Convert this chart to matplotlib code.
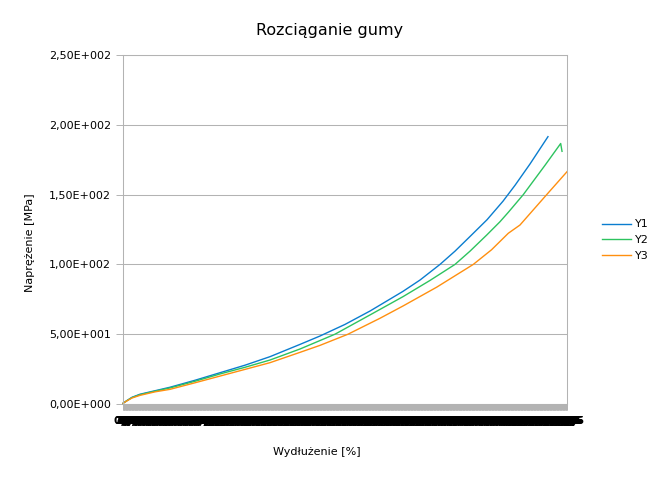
import numpy as np
import matplotlib
matplotlib.use('Agg')
import matplotlib.pyplot as plt
from matplotlib.ticker import FuncFormatter

# x axis is a category axis: elongation values [%]
step = 0.5
categories = np.arange(0, 597.5 + step / 2, step)
cat_labels = [f"{c:g}".replace('.', ',') for c in categories]

# series (elongation %, stress MPa)
y1_x = [0, 5.4, 12.1, 22.9, 43.1, 63.2, 96.9, 130.5, 164.2, 197.8, 238.2, 265.1,
        298.7, 332.4, 376.8, 399.7, 426.6, 446.8, 467.0, 489.9, 511.4, 527.6,
        547.8, 571.9]
y1_val = [0.5, 2.5, 4.8, 7, 9.5, 12, 17, 22.4, 27.8, 33.9, 42.7, 48.7,
          57, 66.6, 80.7, 88.8, 100, 109.5, 120, 132, 145.3, 156.7,
          172, 191.5]

y2_x = [0, 5.4, 12.1, 22.9, 43.1, 63.2, 96.9, 130.5, 164.2, 197.8, 238.2, 285.3,
        332.4, 376.8, 413.1, 446.8, 467.0, 489.4, 507.2, 518.5, 538.7, 567.9,
        589.0, 590.8]
y2_val = [0.5, 2.4, 4.6, 6.7, 9.2, 11.5, 16.3, 21.5, 26.3, 31.5, 39.4, 50,
          63.8, 76.9, 88.5, 100, 109.5, 121, 130.5, 137.3, 150, 171,
          186.6, 181]

y3_x = [0, 5.4, 12.1, 22.9, 43.1, 63.2, 96.9, 130.5, 164.2, 197.8, 238.2, 265.1,
        302.8, 345.8, 376.8, 422.2, 471.4, 496.0, 518.5, 534.2, 570.2, 597.5]
y3_val = [0.5, 2.3, 4.3, 6.2, 8.7, 10.5, 15.2, 20, 24.8, 29.6, 37, 42,
          50, 61.4, 70.2, 83.7, 100, 110.5, 122.3, 128.2, 150, 166.4]

series = [
    ('Y1', y1_x, y1_val, '#0a7dcf'),
    ('Y2', y2_x, y2_val, '#2dc35f'),
    ('Y3', y3_x, y3_val, '#ff8f0f'),
]

grey = '#b3b3b3'


def sci_pl(v, pos):
    # LibreOffice style: 5,00E+001
    if v == 0:
        return "0,00E+000"
    exp = int(np.floor(np.log10(abs(v))))
    mant = v / 10 ** exp
    return f"{mant:.2f}".replace('.', ',') + f"E{exp:+04d}"


fig = plt.figure(figsize=(6.61, 4.80), dpi=100)
ax = fig.add_axes([123 / 661, 76 / 480, 444 / 661, 349 / 480])

for name, xs, vals, color in series:
    ax.plot(np.array(xs) / step, vals, color=color, lw=1.0, label=name, clip_on=False)

ax.set_xlim(0, len(categories) - 1)
ax.set_ylim(0, 250)
ax.set_yticks(np.arange(0, 251, 50))
ax.yaxis.set_major_formatter(FuncFormatter(sci_pl))
ax.set_xticks(np.arange(len(categories)))
# thousands of overlapping category labels merge into one black band
ax.set_xticklabels(cat_labels, fontsize=8, fontweight='bold')
ax.tick_params(axis='x', length=4.3, width=0.7, color=grey, pad=4)
ax.tick_params(axis='y', length=5, width=0.7, color=grey, pad=3.6, labelsize=8)
ax.grid(axis='y', color=grey, lw=0.75)
ax.set_axisbelow(True)
for s in ax.spines.values():
    s.set_color(grey)
    s.set_linewidth(0.75)

fig.text(330 / 661, 1 - 30 / 480, 'Rozciąganie gumy', ha='center', va='center', fontsize=11.5)
fig.text(30 / 661, 1 - 243 / 480, 'Naprężenie [MPa]', rotation=90, ha='center', va='center', fontsize=8)
fig.text(317 / 661, 1 - 452 / 480, 'Wydłużenie [%]', ha='center', va='center', fontsize=8)

fig.legend(loc='center left', bbox_to_anchor=(602 / 661, 1 - 240 / 480), frameon=False,
           fontsize=8, handlelength=2.6, handletextpad=0.4, labelspacing=0.5,
           borderpad=0, borderaxespad=0)

fig.savefig('out.png', dpi=100)
